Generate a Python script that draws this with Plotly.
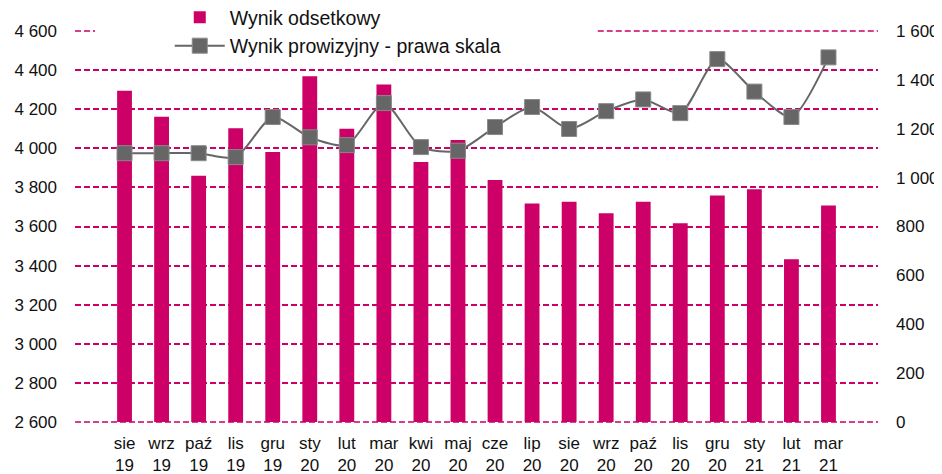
import plotly.graph_objects as go

months = ["sie<br>19", "wrz<br>19", "paź<br>19", "lis<br>19", "gru<br>19", "sty<br>20",
          "lut<br>20", "mar<br>20", "kwi<br>20", "maj<br>20", "cze<br>20", "lip<br>20",
          "sie<br>20", "wrz<br>20", "paź<br>20", "lis<br>20", "gru<br>20", "sty<br>21",
          "lut<br>21", "mar<br>21"]
wynik_odsetkowy = [4295, 4162, 3860, 4102, 3981, 4368, 4100, 4326, 3930, 4042,
                   3838, 3718, 3726, 3668, 3726, 3617, 3758, 3790, 3432, 3708]
wynik_prowizyjny = [1100, 1100, 1100, 1084, 1248, 1165, 1133, 1305, 1125, 1110,
                    1207, 1289, 1199, 1272, 1320, 1264, 1485, 1352, 1248, 1492]

left_ticks = list(range(2600, 4601, 200))
right_ticks = list(range(0, 1601, 200))

def fmt(v):
    return f"{v:,}".replace(",", " ")

MAG = "#CC0066"
GREY = "#666666"
DASH = "6px,3px"

fig = go.Figure()
fig.add_trace(go.Bar(x=months, y=wynik_odsetkowy, name="Wynik odsetkowy",
                     marker=dict(color=MAG, line=dict(width=0)), yaxis="y"))
fig.add_trace(go.Scatter(x=months, y=wynik_prowizyjny, name="Wynik prowizyjny - prawa skala",
                         mode="lines+markers", yaxis="y2",
                         line=dict(color=GREY, width=2, shape="spline", smoothing=0.7),
                         marker=dict(symbol="square", size=15, color=GREY,
                                     line=dict(color="#8a8a8a", width=1))))

ymin, ymax = left_ticks[0], left_ticks[-1]
edge_line = dict(color=MAG, width=1.6, dash=DASH)

# the page body adds an 8px margin, so the figure is sized/offset to compensate
fig.update_layout(
    width=934, height=466,
    margin=dict(l=67, r=64, t=23, b=52, autoexpand=False),
    plot_bgcolor="rgba(0,0,0,0)", paper_bgcolor="white",
    font=dict(family="Liberation Sans, Arial, sans-serif", size=18, color="#111111"),
    bargap=0.6,
    showlegend=True,
    legend=dict(x=0.118, xanchor="left", y=1.084, yanchor="top",
                bgcolor="rgba(255,255,255,0)", font=dict(size=19.5),
                itemwidth=50, tracegroupgap=0, traceorder="normal"),
    xaxis=dict(showgrid=False, showline=False, zeroline=False, ticks="",
               tickangle=0, ticklabelstandoff=9, automargin=False,
               tickfont=dict(size=17)),
    yaxis=dict(range=[ymin, ymax], tickvals=left_ticks, ticktext=[fmt(v) for v in left_ticks],
               showgrid=True, gridcolor=MAG, griddash=DASH, gridwidth=1.6,
               zeroline=False, showline=False, ticks="", ticklabelstandoff=17, automargin=False,
               tickfont=dict(size=17)),
    yaxis2=dict(range=[right_ticks[0], right_ticks[-1]], tickvals=right_ticks,
                ticktext=[fmt(v) for v in right_ticks],
                overlaying="y", side="right", showgrid=False, zeroline=False,
                showline=False, ticks="", ticklabelstandoff=17, automargin=False,
                tickfont=dict(size=17)),
    shapes=[
        dict(type="line", xref="paper", yref="paper", x0=0, x1=1, y0=0, y1=0,
             line=edge_line, layer="below"),
        dict(type="line", xref="paper", yref="paper", x0=0, x1=0.025, y0=1, y1=1,
             line=edge_line, layer="below"),
        dict(type="line", xref="paper", yref="paper", x0=0.651, x1=1, y0=1, y1=1,
             line=edge_line, layer="below"),
    ],
)

fig.write_html("out.html")
